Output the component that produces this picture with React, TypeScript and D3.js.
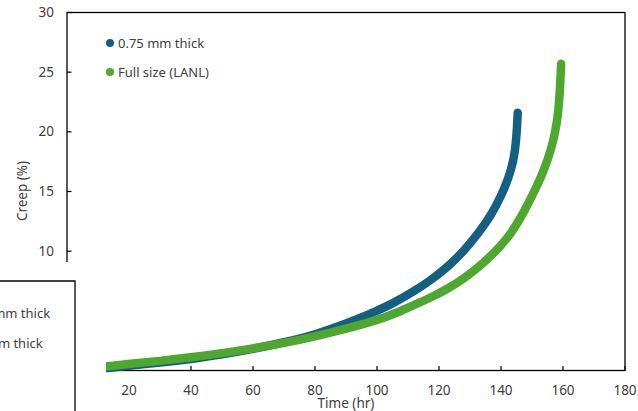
import * as d3 from "d3";

// series
const blueTime = [13, 20, 30, 40, 50, 60, 70, 80, 90, 100, 105, 111.7, 117, 122.5, 128, 133, 137, 140, 142.4, 144, 144.8, 145.2, 145.4];
const blueCreep = [0.2, 0.4, 0.65, 0.95, 1.35, 1.8, 2.35, 3.0, 3.9, 5.0, 5.6, 6.6, 7.5, 8.6, 10.0, 11.6, 13.1, 14.6, 16.1, 17.5, 19.0, 20.5, 21.6];

const greenTime = [13, 20, 30, 40, 50, 60, 70, 80, 90, 100, 107, 112, 118, 122.5, 128, 133, 138, 141.8, 144.5, 147.2, 150, 153.1, 155, 156.9, 158.2, 158.8, 159.2, 159.4];
const greenCreep = [0.35, 0.55, 0.8, 1.1, 1.45, 1.85, 2.3, 2.85, 3.5, 4.2, 4.9, 5.5, 6.2, 6.8, 7.7, 8.7, 9.9, 11.0, 12.0, 13.2, 14.6, 16.3, 17.6, 19.2, 21.0, 22.6, 24.5, 25.7];

const seriesNames = ["0.75 mm thick", "Full size (LANL)"];
const seriesColors = ["#156082", "#4EA72E"];
const otherLegend = ["0.75 mm thick", "0.5 mm thick"];

const xTicks = [0, 20, 40, 60, 80, 100, 120, 140, 160, 180];
const yTicks = [0, 5, 10, 15, 20, 25, 30];

const W = 638;
const H = 411;
const font = "'Noto Sans', 'Liberation Sans', sans-serif";
const textColor = "#404040";

export default function App() {
  const x = d3.scaleLinear().domain([0, 180]).range([67, 625]);
  const y = d3.scaleLinear().domain([0, 30]).range([370.5, 12.5]);

  const line = d3
    .line<[number, number]>()
    .x((d) => x(d[0]))
    .y((d) => y(d[1]))
    .curve(d3.curveBasis);

  const blue = blueTime.map((t, i) => [t, blueCreep[i]] as [number, number]);
  const green = greenTime.map((t, i) => [t, greenCreep[i]] as [number, number]);

  const [x0, x1] = x.range();
  const [y0, y1] = y.range();

  return (
    <svg
      width={W}
      height={H}
      style={{ position: "absolute", left: 0, top: 0, background: "white" }}
      fontFamily={font}
    >
      {/* plot frame */}
      <rect x={x0} y={y1} width={x1 - x0} height={y0 - y1} fill="none" stroke="#000" strokeWidth={1.3} />

      {/* x ticks */}
      {xTicks.map((t) => (
        <g key={"x" + t}>
          <line x1={x(t)} x2={x(t)} y1={y0} y2={y0 - 4.5} stroke="#000" strokeWidth={1.2} />
          <text x={x(t)} y={395} textAnchor="middle" fontSize={13.5} fill={textColor}>
            {t}
          </text>
        </g>
      ))}

      {/* y ticks */}
      {yTicks.map((v) => (
        <g key={"y" + v}>
          <line x1={x0} x2={x0 + 4.5} y1={y(v)} y2={y(v)} stroke="#000" strokeWidth={1.2} />
          <text x={54} y={y(v) + 4.5} textAnchor="end" fontSize={13.5} fill={textColor}>
            {v}
          </text>
        </g>
      ))}

      <text x={346} y={408} textAnchor="middle" fontSize={13.5} fill={textColor}>
        Time (hr)
      </text>
      <text
        transform={`translate(27,191) rotate(-90)`}
        textAnchor="middle"
        fontSize={13.5}
        fill={textColor}
      >
        Creep (%)
      </text>

      {/* series */}
      <path d={line(blue) ?? ""} fill="none" stroke={seriesColors[0]} strokeWidth={8.5} strokeLinecap="round" strokeLinejoin="round" />
      <path d={line(green) ?? ""} fill="none" stroke={seriesColors[1]} strokeWidth={8.5} strokeLinecap="round" strokeLinejoin="round" />

      {/* legend */}
      {seriesNames.map((name, i) => (
        <g key={name} transform={`translate(0,${43 + i * 29})`}>
          <circle cx={110} cy={0} r={4} fill={seriesColors[i]} />
          <text x={118} y={4.5} fontSize={13} fill={textColor}>
            {name}
          </text>
        </g>
      ))}

      {/* overlapping chart box from another figure */}
      <rect x={0} y={262} width={106} height={H - 262} fill="white" />
      <path d={`M0,281H75V${H}`} fill="none" stroke="#000" strokeWidth={1.3} />
      {otherLegend.map((name, i) => (
        <text key={name + i} x={-36} y={318 + i * 30} fontSize={13} fill={textColor}>
          {name}
        </text>
      ))}
    </svg>
  );
}
